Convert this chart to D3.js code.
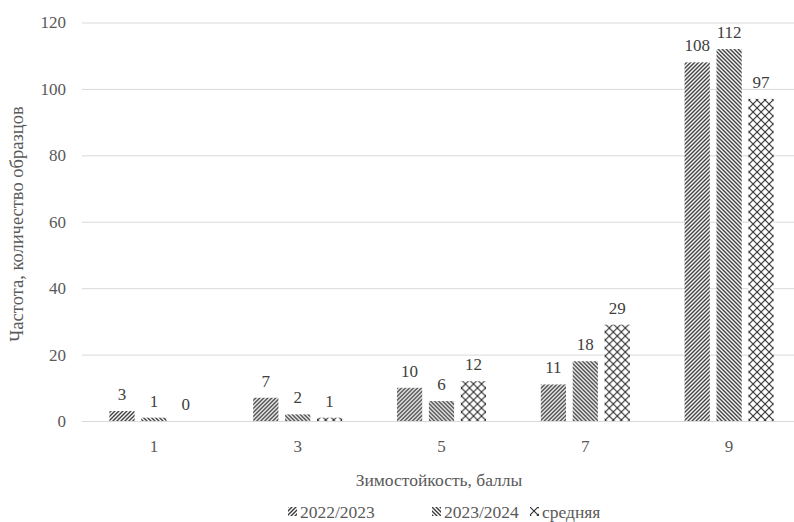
<!DOCTYPE html>
<html>
<head>
<meta charset="utf-8">
<script src="https://cdn.jsdelivr.net/npm/d3@7"></script>
<style>
  html, body { margin: 0; padding: 0; background: #fff; }
  svg { display: block; }
</style>
</head>
<body>
<svg id="chart" width="794" height="522" font-family="Liberation Serif"></svg>
<script>
// Winter hardiness score categories
const categories = ["1", "3", "5", "7", "9"];
// Sample counts per season
const series = ["2022/2023", "2023/2024", "средняя"];
const values2022 = [3, 7, 10, 11, 108];
const values2023 = [1, 2, 6, 18, 112];
const valuesMean = [0, 1, 12, 29, 97];
const yTicks = [0, 20, 40, 60, 80, 100, 120];

const seriesValues = [values2022, values2023, valuesMean];
const patternIds = ["pat-up", "pat-down", "pat-cross"];

const W = 794, H = 522;
const margin = { left: 82, right: -7, top: 22.5, bottom: 101 };
const svg = d3.select("#chart");

// Fill patterns for the three series
const defs = svg.append("defs");
const up = defs.append("pattern").attr("id", "pat-up")
  .attr("patternUnits", "userSpaceOnUse").attr("width", 4).attr("height", 4);
up.append("rect").attr("width", 4).attr("height", 4).attr("fill", "#fff");
up.append("path").attr("d", "M-1,1 L1,-1 M0,4 L4,0 M3,5 L5,3")
  .attr("stroke", "#3a3a3a").attr("stroke-width", 1.4);

const down = defs.append("pattern").attr("id", "pat-down")
  .attr("patternUnits", "userSpaceOnUse").attr("width", 4).attr("height", 4);
down.append("rect").attr("width", 4).attr("height", 4).attr("fill", "#fff");
down.append("path").attr("d", "M-1,3 L1,5 M0,0 L4,4 M3,-1 L5,1")
  .attr("stroke", "#3a3a3a").attr("stroke-width", 1.4);

const cross = defs.append("pattern").attr("id", "pat-cross")
  .attr("patternUnits", "userSpaceOnUse").attr("width", 8).attr("height", 8);
cross.append("rect").attr("width", 8).attr("height", 8).attr("fill", "#fff");
cross.append("path").attr("d", "M0,0 L8,8 M8,0 L0,8")
  .attr("stroke", "#2e2e2e").attr("stroke-width", 1.1);

const x0 = d3.scaleBand().domain(categories)
  .range([margin.left, W - margin.right]).padding(0);
const x1 = d3.scaleBand().domain(series)
  .range([-44.5, 44.5]).paddingInner(0.21).paddingOuter(0);
const y = d3.scaleLinear().domain([0, 120])
  .range([H - margin.bottom, margin.top]);

// Horizontal gridlines
svg.append("g").selectAll("line").data(yTicks).join("line")
  .attr("x1", margin.left).attr("x2", W - margin.right)
  .attr("y1", d => y(d) + 0.5).attr("y2", d => y(d) + 0.5)
  .attr("stroke", "#d9d9d9").attr("stroke-width", 1);

// Y tick labels
svg.append("g").selectAll("text").data(yTicks).join("text")
  .attr("x", 66).attr("y", d => y(d)).attr("dy", "0.35em")
  .attr("text-anchor", "end").attr("font-size", 17).attr("fill", "#595959")
  .text(d => d);

// Bars
const groups = svg.append("g").selectAll("g").data(categories).join("g")
  .attr("transform", c => `translate(${x0(c) + x0.bandwidth() / 2},0)`);

groups.each(function(c, ci) {
  const g = d3.select(this);
  series.forEach((s, si) => {
    const v = seriesValues[si][ci];
    g.append("rect")
      .attr("x", x1(s)).attr("width", x1.bandwidth())
      .attr("y", y(v)).attr("height", y(0) - y(v))
      .attr("fill", `url(#${patternIds[si]})`);
    g.append("text")
      .attr("x", x1(s) + x1.bandwidth() / 2).attr("y", y(v) - 11)
      .attr("text-anchor", "middle").attr("font-size", 17).attr("fill", "#404040")
      .text(v);
  });
});

// X tick labels
svg.append("g").selectAll("text").data(categories).join("text")
  .attr("x", c => x0(c) + x0.bandwidth() / 2).attr("y", 452)
  .attr("text-anchor", "middle").attr("font-size", 17).attr("fill", "#595959")
  .text(c => c);

// Axis titles
svg.append("text").attr("x", 439).attr("y", 486)
  .attr("text-anchor", "middle").attr("font-size", 17.5).attr("fill", "#595959")
  .text("Зимостойкость, баллы");

svg.append("text")
  .attr("transform", `translate(23,224) rotate(-90)`)
  .attr("text-anchor", "middle").attr("font-size", 18.5).attr("fill", "#595959")
  .text("Частота, количество образцов");

// Legend
const legendX = [288, 432, 530];
const legend = svg.append("g").selectAll("g").data(series).join("g")
  .attr("transform", (s, i) => `translate(${legendX[i]},507)`);
legend.append("rect").attr("width", 9).attr("height", 9)
  .attr("fill", (s, i) => `url(#${patternIds[i]})`);
legend.append("text").attr("x", 12).attr("y", 4.5).attr("dy", "0.35em")
  .attr("font-size", 17.5).attr("fill", "#595959")
  .text(s => s);
</script>
</body>
</html>
